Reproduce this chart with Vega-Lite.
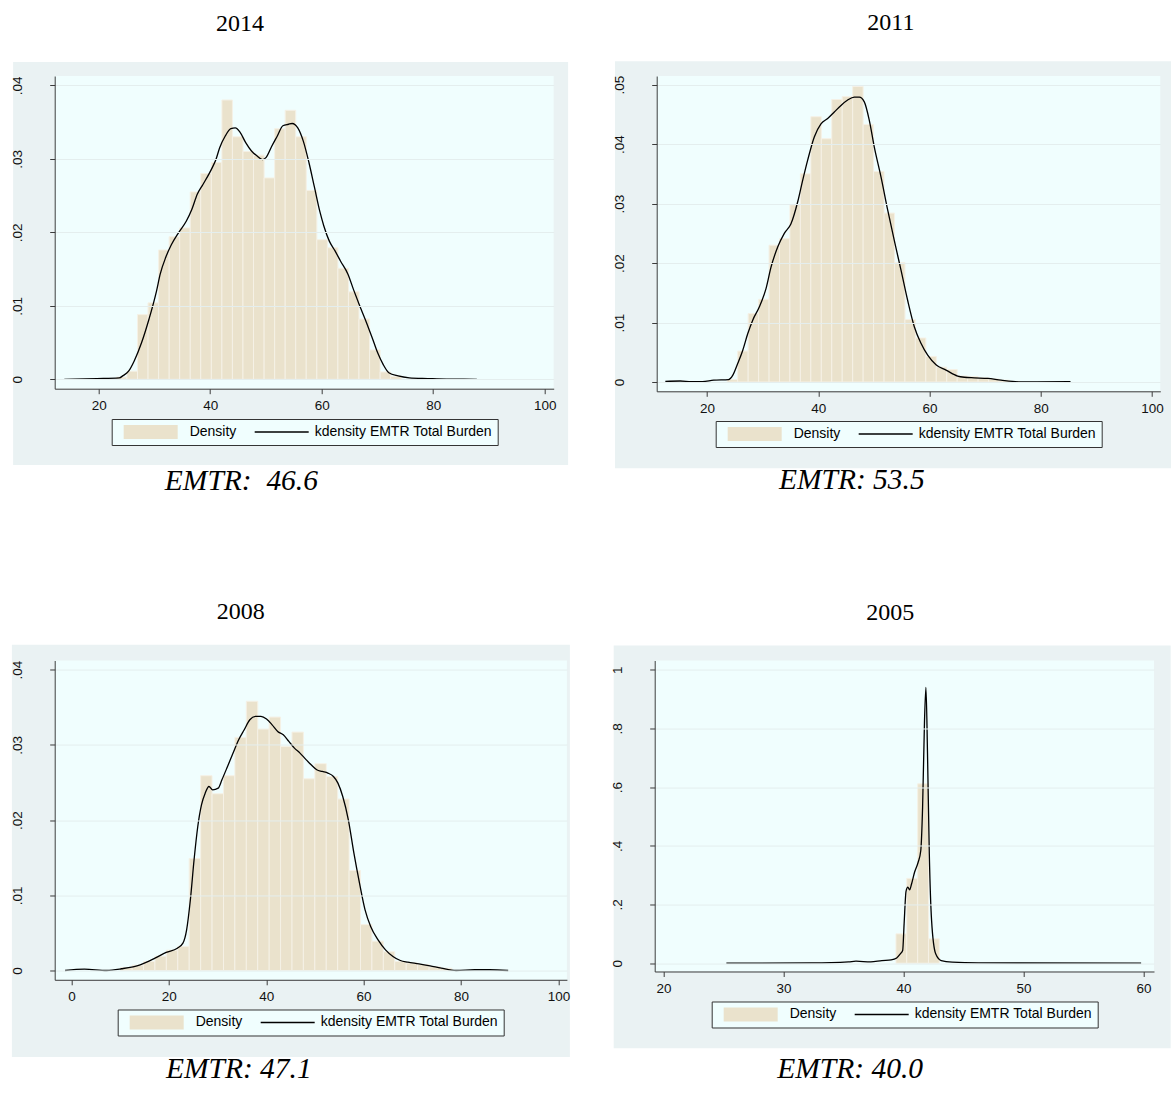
{
  "$schema": "https://vega.github.io/schema/vega-lite/v6.json",
  "background": "white",
  "padding": {"left": 10.7, "top": 11, "right": 0, "bottom": 0},
  "spacing": 103.5,
  "resolve": {"scale": {"color": "independent", "strokeWidth": "independent"}, "legend": {"color": "independent", "strokeWidth": "independent"}},
  "datasets": {
    "h14": [
      {"x0": 23.18, "x1": 25.07, "d": 0.0003},
      {"x0": 25.07, "x1": 26.96, "d": 0.0011},
      {"x0": 26.96, "x1": 28.85, "d": 0.0088},
      {"x0": 28.85, "x1": 30.75, "d": 0.0104},
      {"x0": 30.75, "x1": 32.64, "d": 0.0176},
      {"x0": 32.64, "x1": 34.53, "d": 0.0194},
      {"x0": 34.53, "x1": 36.42, "d": 0.0206},
      {"x0": 36.42, "x1": 38.31, "d": 0.0255},
      {"x0": 38.31, "x1": 40.21, "d": 0.0280},
      {"x0": 40.21, "x1": 42.10, "d": 0.0295},
      {"x0": 42.10, "x1": 43.99, "d": 0.0380},
      {"x0": 43.99, "x1": 45.88, "d": 0.0330},
      {"x0": 45.88, "x1": 47.77, "d": 0.0310},
      {"x0": 47.77, "x1": 49.67, "d": 0.0305},
      {"x0": 49.67, "x1": 51.56, "d": 0.0274},
      {"x0": 51.56, "x1": 53.45, "d": 0.0341},
      {"x0": 53.45, "x1": 55.34, "d": 0.0366},
      {"x0": 55.34, "x1": 57.23, "d": 0.0330},
      {"x0": 57.23, "x1": 59.13, "d": 0.0257},
      {"x0": 59.13, "x1": 61.02, "d": 0.0190},
      {"x0": 61.02, "x1": 62.91, "d": 0.0179},
      {"x0": 62.91, "x1": 64.80, "d": 0.0151},
      {"x0": 64.80, "x1": 66.69, "d": 0.0119},
      {"x0": 66.69, "x1": 68.59, "d": 0.0082},
      {"x0": 68.59, "x1": 70.48, "d": 0.0040},
      {"x0": 70.48, "x1": 72.37, "d": 0.0010},
      {"x0": 72.37, "x1": 74.26, "d": 0.0004}
    ],
    "k14": [
      {"x": 13.83, "y": 0.0}, {"x": 19.70, "y": 0.0001}, {"x": 23.70, "y": 0.0002}, {"x": 24.37, "y": 0.0005},
      {"x": 25.36, "y": 0.0011}, {"x": 26.37, "y": 0.0025}, {"x": 27.70, "y": 0.0050}, {"x": 29.03, "y": 0.0082},
      {"x": 30.37, "y": 0.0120}, {"x": 31.03, "y": 0.0143}, {"x": 32.03, "y": 0.0166}, {"x": 33.03, "y": 0.0183},
      {"x": 34.37, "y": 0.0200}, {"x": 35.70, "y": 0.0215}, {"x": 36.70, "y": 0.0231}, {"x": 37.70, "y": 0.0252},
      {"x": 38.70, "y": 0.0265}, {"x": 40.37, "y": 0.0288}, {"x": 41.03, "y": 0.0299}, {"x": 41.70, "y": 0.0315},
      {"x": 42.70, "y": 0.0331}, {"x": 43.70, "y": 0.0341}, {"x": 44.50, "y": 0.0342}, {"x": 45.37, "y": 0.0336},
      {"x": 46.37, "y": 0.0322}, {"x": 47.37, "y": 0.0311}, {"x": 48.37, "y": 0.0304}, {"x": 49.37, "y": 0.0299},
      {"x": 50.04, "y": 0.0302}, {"x": 51.04, "y": 0.0317}, {"x": 52.04, "y": 0.0331}, {"x": 53.04, "y": 0.0345},
      {"x": 54.04, "y": 0.0347}, {"x": 54.70, "y": 0.0348}, {"x": 55.71, "y": 0.0342}, {"x": 56.70, "y": 0.0324},
      {"x": 57.71, "y": 0.0295}, {"x": 58.71, "y": 0.0261}, {"x": 59.71, "y": 0.0227}, {"x": 60.37, "y": 0.0209},
      {"x": 61.37, "y": 0.0188}, {"x": 62.37, "y": 0.0175}, {"x": 63.37, "y": 0.0161}, {"x": 64.71, "y": 0.0143},
      {"x": 65.71, "y": 0.0122}, {"x": 66.71, "y": 0.0102}, {"x": 68.04, "y": 0.0077}, {"x": 69.04, "y": 0.0057},
      {"x": 70.04, "y": 0.0036}, {"x": 71.04, "y": 0.0020}, {"x": 72.04, "y": 0.0009}, {"x": 73.71, "y": 0.00045},
      {"x": 75.71, "y": 0.0002}, {"x": 79.04, "y": 0.0001}, {"x": 82.38, "y": 0.00002}, {"x": 87.84, "y": 0.0}
    ],
    "h11": [
      {"x0": 23.64, "x1": 25.52, "d": 0.0004},
      {"x0": 25.52, "x1": 27.40, "d": 0.0052},
      {"x0": 27.40, "x1": 29.28, "d": 0.0115},
      {"x0": 29.28, "x1": 31.16, "d": 0.0139},
      {"x0": 31.16, "x1": 33.04, "d": 0.0230},
      {"x0": 33.04, "x1": 34.91, "d": 0.0241},
      {"x0": 34.91, "x1": 36.79, "d": 0.0298},
      {"x0": 36.79, "x1": 38.67, "d": 0.0350},
      {"x0": 38.67, "x1": 40.55, "d": 0.0446},
      {"x0": 40.55, "x1": 42.43, "d": 0.0409},
      {"x0": 42.43, "x1": 44.31, "d": 0.0475},
      {"x0": 44.31, "x1": 46.19, "d": 0.0480},
      {"x0": 46.19, "x1": 48.07, "d": 0.0497},
      {"x0": 48.07, "x1": 49.95, "d": 0.0433},
      {"x0": 49.95, "x1": 51.83, "d": 0.0354},
      {"x0": 51.83, "x1": 53.71, "d": 0.0284},
      {"x0": 53.71, "x1": 55.59, "d": 0.0201},
      {"x0": 55.59, "x1": 57.46, "d": 0.0105},
      {"x0": 57.46, "x1": 59.34, "d": 0.0074},
      {"x0": 59.34, "x1": 61.22, "d": 0.0043},
      {"x0": 61.22, "x1": 63.10, "d": 0.0025},
      {"x0": 63.10, "x1": 64.98, "d": 0.0021},
      {"x0": 64.98, "x1": 66.86, "d": 0.0010},
      {"x0": 66.86, "x1": 68.74, "d": 0.0009},
      {"x0": 68.74, "x1": 70.62, "d": 0.0007},
      {"x0": 70.62, "x1": 72.50, "d": 0.0005},
      {"x0": 72.50, "x1": 74.38, "d": 0.0003},
      {"x0": 74.38, "x1": 76.26, "d": 0.0001}
    ],
    "k11": [
      {"x": 12.51, "y": 0.0001}, {"x": 15.18, "y": 0.00017}, {"x": 17.19, "y": 0.00006}, {"x": 19.19, "y": 0.00006},
      {"x": 21.20, "y": 0.0003}, {"x": 23.87, "y": 0.0004}, {"x": 24.62, "y": 0.0011}, {"x": 25.52, "y": 0.0031},
      {"x": 26.42, "y": 0.0053}, {"x": 27.32, "y": 0.0081}, {"x": 28.22, "y": 0.0104}, {"x": 29.40, "y": 0.0126},
      {"x": 30.61, "y": 0.0157}, {"x": 31.51, "y": 0.0193}, {"x": 32.71, "y": 0.0227}, {"x": 33.90, "y": 0.0250},
      {"x": 35.10, "y": 0.0266}, {"x": 36.31, "y": 0.0303}, {"x": 37.20, "y": 0.0339}, {"x": 38.10, "y": 0.0373},
      {"x": 39.29, "y": 0.0412}, {"x": 40.49, "y": 0.0434}, {"x": 41.70, "y": 0.0443}, {"x": 42.89, "y": 0.0454},
      {"x": 44.09, "y": 0.0465}, {"x": 45.29, "y": 0.0474}, {"x": 46.48, "y": 0.0479}, {"x": 47.38, "y": 0.0479},
      {"x": 48.28, "y": 0.0471}, {"x": 49.18, "y": 0.0440}, {"x": 50.08, "y": 0.0395}, {"x": 51.28, "y": 0.0345},
      {"x": 52.49, "y": 0.0289}, {"x": 53.67, "y": 0.0238}, {"x": 54.88, "y": 0.0188}, {"x": 56.08, "y": 0.0137},
      {"x": 57.27, "y": 0.0093}, {"x": 58.47, "y": 0.0065}, {"x": 59.68, "y": 0.0045}, {"x": 61.17, "y": 0.0029},
      {"x": 62.97, "y": 0.0020}, {"x": 65.07, "y": 0.0010}, {"x": 66.26, "y": 0.0008}, {"x": 68.05, "y": 0.0007},
      {"x": 70.46, "y": 0.0006}, {"x": 72.85, "y": 0.0003}, {"x": 76.00, "y": 0.00003}, {"x": 79.33, "y": 0.00003},
      {"x": 85.35, "y": 0.00005}
    ],
    "h08": [
      {"x0": 10.12, "x1": 12.47, "d": 0.0004},
      {"x0": 12.47, "x1": 14.81, "d": 0.0007},
      {"x0": 14.81, "x1": 17.16, "d": 0.0012},
      {"x0": 17.16, "x1": 19.50, "d": 0.0019},
      {"x0": 19.50, "x1": 21.85, "d": 0.0027},
      {"x0": 21.85, "x1": 24.19, "d": 0.0032},
      {"x0": 24.19, "x1": 26.54, "d": 0.0149},
      {"x0": 26.54, "x1": 28.88, "d": 0.0259},
      {"x0": 28.88, "x1": 31.23, "d": 0.0235},
      {"x0": 31.23, "x1": 33.57, "d": 0.0259},
      {"x0": 33.57, "x1": 35.92, "d": 0.0310},
      {"x0": 35.92, "x1": 38.26, "d": 0.0358},
      {"x0": 38.26, "x1": 40.61, "d": 0.0321},
      {"x0": 40.61, "x1": 42.95, "d": 0.0337},
      {"x0": 42.95, "x1": 45.30, "d": 0.0298},
      {"x0": 45.30, "x1": 47.64, "d": 0.0317},
      {"x0": 47.64, "x1": 49.99, "d": 0.0255},
      {"x0": 49.99, "x1": 52.33, "d": 0.0275},
      {"x0": 52.33, "x1": 54.68, "d": 0.0258},
      {"x0": 54.68, "x1": 57.02, "d": 0.0228},
      {"x0": 57.02, "x1": 59.37, "d": 0.0133},
      {"x0": 59.37, "x1": 61.71, "d": 0.0061},
      {"x0": 61.71, "x1": 64.06, "d": 0.0039},
      {"x0": 64.06, "x1": 66.40, "d": 0.0025},
      {"x0": 66.40, "x1": 68.75, "d": 0.0012},
      {"x0": 68.75, "x1": 71.09, "d": 0.0010},
      {"x0": 71.09, "x1": 73.44, "d": 0.0008},
      {"x0": 73.44, "x1": 75.78, "d": 0.0005},
      {"x0": 75.78, "x1": 78.13, "d": 0.0003}
    ],
    "k08": [
      {"x": -1.30, "y": 0.0}, {"x": 2.67, "y": 0.00018}, {"x": 7.25, "y": 0.0}, {"x": 10.30, "y": 0.00023},
      {"x": 14.12, "y": 0.00076}, {"x": 17.17, "y": 0.00164}, {"x": 19.46, "y": 0.0024}, {"x": 21.75, "y": 0.00297},
      {"x": 22.90, "y": 0.00364}, {"x": 23.66, "y": 0.00541}, {"x": 24.43, "y": 0.0094}, {"x": 25.19, "y": 0.01472},
      {"x": 25.95, "y": 0.01915}, {"x": 26.71, "y": 0.02203}, {"x": 27.48, "y": 0.02359}, {"x": 28.24, "y": 0.02447},
      {"x": 29.00, "y": 0.02403}, {"x": 30.15, "y": 0.02425}, {"x": 30.91, "y": 0.02536}, {"x": 32.06, "y": 0.02713},
      {"x": 33.20, "y": 0.02891}, {"x": 34.35, "y": 0.03068}, {"x": 35.49, "y": 0.03201}, {"x": 36.64, "y": 0.03334},
      {"x": 37.78, "y": 0.03378}, {"x": 38.93, "y": 0.03378}, {"x": 40.07, "y": 0.03343}, {"x": 41.22, "y": 0.03267},
      {"x": 42.36, "y": 0.03179}, {"x": 43.51, "y": 0.03134}, {"x": 44.65, "y": 0.03046}, {"x": 45.80, "y": 0.02957},
      {"x": 46.94, "y": 0.02891}, {"x": 48.09, "y": 0.02811}, {"x": 49.23, "y": 0.02735}, {"x": 50.38, "y": 0.02669},
      {"x": 51.52, "y": 0.02647}, {"x": 52.67, "y": 0.02625}, {"x": 53.81, "y": 0.0258}, {"x": 54.73, "y": 0.02492},
      {"x": 55.72, "y": 0.02314}, {"x": 56.87, "y": 0.02004}, {"x": 58.01, "y": 0.01561}, {"x": 59.16, "y": 0.01162},
      {"x": 60.30, "y": 0.00807}, {"x": 61.45, "y": 0.00586}, {"x": 62.97, "y": 0.00408}, {"x": 64.50, "y": 0.00275},
      {"x": 66.03, "y": 0.00187}, {"x": 67.55, "y": 0.00133}, {"x": 69.08, "y": 0.00111}, {"x": 71.37, "y": 0.00089},
      {"x": 73.66, "y": 0.00062}, {"x": 75.95, "y": 0.00031}, {"x": 79.00, "y": 0.0}, {"x": 82.82, "y": 0.0001},
      {"x": 85.87, "y": 0.0001}, {"x": 89.69, "y": 0.0}
    ],
    "h05": [
      {"x0": 39.38, "x1": 40.28, "d": 0.100},
      {"x0": 40.28, "x1": 41.19, "d": 0.289},
      {"x0": 41.19, "x1": 42.09, "d": 0.611},
      {"x0": 42.09, "x1": 42.99, "d": 0.083}
    ],
    "k05": [
      {"x": 25.25, "y": 0.0}, {"x": 32.35, "y": 0.001}, {"x": 35.43, "y": 0.0045}, {"x": 36.05, "y": 0.0068},
      {"x": 37.28, "y": 0.0045}, {"x": 38.21, "y": 0.009}, {"x": 38.98, "y": 0.0114}, {"x": 39.44, "y": 0.018},
      {"x": 39.75, "y": 0.032}, {"x": 39.94, "y": 0.043}, {"x": 40.06, "y": 0.134}, {"x": 40.22, "y": 0.245},
      {"x": 40.37, "y": 0.259}, {"x": 40.52, "y": 0.250}, {"x": 40.68, "y": 0.270}, {"x": 40.93, "y": 0.310},
      {"x": 41.23, "y": 0.344}, {"x": 41.45, "y": 0.384}, {"x": 41.60, "y": 0.531}, {"x": 41.76, "y": 0.826},
      {"x": 41.88, "y": 0.940}, {"x": 42.01, "y": 0.713}, {"x": 42.16, "y": 0.372}, {"x": 42.35, "y": 0.145},
      {"x": 42.69, "y": 0.032}, {"x": 43.15, "y": 0.009}, {"x": 44.07, "y": 0.0034}, {"x": 46.23, "y": 0.001},
      {"x": 59.81, "y": 0.0}
    ]
  },
  "vconcat": [
    {
      "spacing": 44,
      "resolve": {"scale": {"color": "independent", "strokeWidth": "independent"}, "legend": {"color": "independent", "strokeWidth": "independent"}},
      "hconcat": [
        {
          "title": {"text": "2014", "font": "Liberation Serif", "fontSize": 24, "fontWeight": "normal", "color": "#000", "anchor": "middle", "frame": "bounds", "dx": -49.5, "offset": 26},
          "resolve": {"scale": {"color": "independent", "strokeWidth": "independent"}, "legend": {"color": "independent", "strokeWidth": "independent"}},
          "vconcat": [
            {
              "width": 499, "height": 312.7,
              "title": {"text": "EMTR:\u00a0 46.6", "orient": "bottom", "font": "Liberation Serif", "fontStyle": "italic", "fontSize": 29.5, "fontWeight": "normal", "color": "#000", "anchor": "middle", "frame": "bounds", "dx": -48, "offset": 2},
              "layer": [
                {
                  "data": {"values": [{}]},
                  "mark": {"type": "rect", "color": "#EAF2F3", "clip": false},
                  "encoding": {
                    "x": {"datum": 4.646, "type": "quantitative", "scale": {"domain": [12.108, 101.615], "nice": false, "zero": false},
                          "axis": {"title": null, "values": [20, 40, 60, 80, 100], "grid": false, "zindex": 1}},
                    "x2": {"datum": 104.2},
                    "y": {"datum": 0.04317, "type": "quantitative", "scale": {"domain": [-0.001279, 0.041265], "nice": false, "zero": false},
                          "axis": {"title": null, "values": [0, 0.01, 0.02, 0.03, 0.04], "grid": true, "zindex": 1,
                                   "labelExpr": "datum.value == 0 ? '0' : datum.value >= 1 ? format(datum.value, 'd') : substring(format(datum.value, '.2~f'), 1)"}},
                    "y2": {"datum": -0.01166}
                  }
                },
                {
                  "data": {"values": [{}]},
                  "mark": {"type": "rect", "color": "#F0FEFE"},
                  "encoding": {"x": {"datum": 12.108}, "x2": {"datum": 101.615}, "y": {"datum": 0.041265}, "y2": {"datum": -0.001279}}
                },
                {
                  "data": {"name": "h14"},
                  "mark": {"type": "rect", "stroke": "#F5F1E6", "strokeWidth": 1},
                  "encoding": {
                    "x": {"field": "x0", "type": "quantitative"}, "x2": {"field": "x1"},
                    "y": {"field": "d", "type": "quantitative"}, "y2": {"datum": 0},
                    "color": {"datum": "Density", "scale": {"domain": ["Density", "kdensity EMTR Total Burden"], "range": ["#EAE2CC", "#000000"]}, "legend": {"title": null, "symbolType": "stroke"}}
                  }
                },
                {
                  "data": {"name": "k14"},
                  "mark": {"type": "line", "interpolate": "monotone"},
                  "encoding": {
                    "x": {"field": "x", "type": "quantitative"}, "y": {"field": "y", "type": "quantitative"},
                    "color": {"datum": "kdensity EMTR Total Burden"},
                    "strokeWidth": {"datum": "kdensity EMTR Total Burden", "scale": {"type": "point", "domain": ["Density", "kdensity EMTR Total Burden"], "range": [14, 1.3], "padding": 0}, "legend": {"title": null, "symbolType": "stroke"}}
                  }
                }
              ]
            }
          ]
        },
        {
          "title": {"text": "2011", "font": "Liberation Serif", "fontSize": 24, "fontWeight": "normal", "color": "#000", "anchor": "middle", "frame": "bounds", "dx": -1.5, "offset": 26},
          "resolve": {"scale": {"color": "independent", "strokeWidth": "independent"}, "legend": {"color": "independent", "strokeWidth": "independent"}},
          "vconcat": [
            {
              "width": 503.6, "height": 315.3,
              "title": {"text": "EMTR: 53.5", "orient": "bottom", "font": "Liberation Serif", "fontStyle": "italic", "fontSize": 29.5, "fontWeight": "normal", "color": "#000", "anchor": "middle", "frame": "bounds", "dx": -40.5, "offset": -2},
              "layer": [
                {
                  "data": {"values": [{}]},
                  "mark": {"type": "rect", "color": "#EAF2F3", "clip": false},
                  "encoding": {
                    "x": {"datum": 3.461, "type": "quantitative", "scale": {"domain": [10.957, 101.492], "nice": false, "zero": false},
                          "axis": {"title": null, "values": [20, 40, 60, 80, 100], "grid": false, "zindex": 1}},
                    "x2": {"datum": 103.596},
                    "y": {"datum": 0.053917, "type": "quantitative", "scale": {"domain": [-0.001564, 0.051446], "nice": false, "zero": false},
                          "axis": {"title": null, "values": [0, 0.01, 0.02, 0.03, 0.04, 0.05], "grid": true, "zindex": 1,
                                   "labelExpr": "datum.value == 0 ? '0' : datum.value >= 1 ? format(datum.value, 'd') : substring(format(datum.value, '.2~f'), 1)"}},
                    "y2": {"datum": -0.014509}
                  }
                },
                {
                  "data": {"values": [{}]},
                  "mark": {"type": "rect", "color": "#F0FEFE"},
                  "encoding": {"x": {"datum": 10.957}, "x2": {"datum": 101.492}, "y": {"datum": 0.051446}, "y2": {"datum": -0.001564}}
                },
                {
                  "data": {"name": "h11"},
                  "mark": {"type": "rect", "stroke": "#F5F1E6", "strokeWidth": 1},
                  "encoding": {
                    "x": {"field": "x0", "type": "quantitative"}, "x2": {"field": "x1"},
                    "y": {"field": "d", "type": "quantitative"}, "y2": {"datum": 0},
                    "color": {"datum": "Density", "scale": {"domain": ["Density", "kdensity EMTR Total Burden"], "range": ["#EAE2CC", "#000000"]}, "legend": {"title": null, "symbolType": "stroke"}}
                  }
                },
                {
                  "data": {"name": "k11"},
                  "mark": {"type": "line", "interpolate": "monotone"},
                  "encoding": {
                    "x": {"field": "x", "type": "quantitative"}, "y": {"field": "y", "type": "quantitative"},
                    "color": {"datum": "kdensity EMTR Total Burden"},
                    "strokeWidth": {"datum": "kdensity EMTR Total Burden", "scale": {"type": "point", "domain": ["Density", "kdensity EMTR Total Burden"], "range": [14, 1.3], "padding": 0}, "legend": {"title": null, "symbolType": "stroke"}}
                  }
                }
              ]
            }
          ]
        }
      ]
    },
    {
      "spacing": 40,
      "resolve": {"scale": {"color": "independent", "strokeWidth": "independent"}, "legend": {"color": "independent", "strokeWidth": "independent"}},
      "hconcat": [
        {
          "title": {"text": "2008", "font": "Liberation Serif", "fontSize": 24, "fontWeight": "normal", "color": "#000", "anchor": "middle", "frame": "bounds", "dx": -49.5, "offset": 21},
          "resolve": {"scale": {"color": "independent", "strokeWidth": "independent"}, "legend": {"color": "independent", "strokeWidth": "independent"}},
          "vconcat": [
            {
              "width": 512.2, "height": 319.3,
              "title": {"text": "EMTR: 47.1", "orient": "bottom", "font": "Liberation Serif", "fontStyle": "italic", "fontSize": 29.5, "fontWeight": "normal", "color": "#000", "anchor": "middle", "frame": "bounds", "dx": -51.5, "offset": -2.5},
              "layer": [
                {
                  "data": {"values": [{}]},
                  "mark": {"type": "rect", "color": "#EAF2F3", "clip": false},
                  "encoding": {
                    "x": {"datum": -12.218, "type": "quantitative", "scale": {"domain": [-3.429, 101.745], "nice": false, "zero": false},
                          "axis": {"title": null, "values": [0, 20, 40, 60, 80, 100], "grid": false, "zindex": 1}},
                    "x2": {"datum": 102.361},
                    "y": {"datum": 0.043311, "type": "quantitative", "scale": {"domain": [-0.001237, 0.041223], "nice": false, "zero": false},
                          "axis": {"title": null, "values": [0, 0.01, 0.02, 0.03, 0.04], "grid": true, "zindex": 1,
                                   "labelExpr": "datum.value == 0 ? '0' : datum.value >= 1 ? format(datum.value, 'd') : substring(format(datum.value, '.2~f'), 1)"}},
                    "y2": {"datum": -0.011516}
                  }
                },
                {
                  "data": {"values": [{}]},
                  "mark": {"type": "rect", "color": "#F0FEFE"},
                  "encoding": {"x": {"datum": -3.429}, "x2": {"datum": 101.745}, "y": {"datum": 0.041223}, "y2": {"datum": -0.001237}}
                },
                {
                  "data": {"name": "h08"},
                  "mark": {"type": "rect", "stroke": "#F5F1E6", "strokeWidth": 1},
                  "encoding": {
                    "x": {"field": "x0", "type": "quantitative"}, "x2": {"field": "x1"},
                    "y": {"field": "d", "type": "quantitative"}, "y2": {"datum": 0},
                    "color": {"datum": "Density", "scale": {"domain": ["Density", "kdensity EMTR Total Burden"], "range": ["#EAE2CC", "#000000"]}, "legend": {"title": null, "symbolType": "stroke"}}
                  }
                },
                {
                  "data": {"name": "k08"},
                  "mark": {"type": "line", "interpolate": "monotone"},
                  "encoding": {
                    "x": {"field": "x", "type": "quantitative"}, "y": {"field": "y", "type": "quantitative"},
                    "color": {"datum": "kdensity EMTR Total Burden"},
                    "strokeWidth": {"datum": "kdensity EMTR Total Burden", "scale": {"type": "point", "domain": ["Density", "kdensity EMTR Total Burden"], "range": [14, 1.3], "padding": 0}, "legend": {"title": null, "symbolType": "stroke"}}
                  }
                }
              ]
            }
          ]
        },
        {
          "title": {"text": "2005", "font": "Liberation Serif", "fontSize": 24, "fontWeight": "normal", "color": "#000", "anchor": "middle", "frame": "bounds", "dx": -0.5, "offset": 21},
          "resolve": {"scale": {"color": "independent", "strokeWidth": "independent"}, "legend": {"color": "independent", "strokeWidth": "independent"}},
          "vconcat": [
            {
              "width": 499.3, "height": 311,
              "title": {"text": "EMTR: 40.0", "orient": "bottom", "font": "Liberation Serif", "fontStyle": "italic", "fontSize": 29.5, "fontWeight": "normal", "color": "#000", "anchor": "middle", "frame": "bounds", "dx": -40.5, "offset": 6.5},
              "layer": [
                {
                  "data": {"values": [{}]},
                  "mark": {"type": "rect", "color": "#EAF2F3", "clip": false},
                  "encoding": {
                    "x": {"datum": 15.858, "type": "quantitative", "scale": {"domain": [19.275, 60.883], "nice": false, "zero": false},
                          "axis": {"title": null, "values": [20, 30, 40, 50, 60], "grid": false, "zindex": 1}},
                    "x2": {"datum": 62.275},
                    "y": {"datum": 1.08245, "type": "quantitative", "scale": {"domain": [-0.02828, 1.03135], "nice": false, "zero": false},
                          "axis": {"title": null, "values": [0, 0.2, 0.4, 0.6, 0.8, 1], "grid": true, "zindex": 1,
                                   "labelExpr": "datum.value == 0 ? '0' : datum.value >= 1 ? format(datum.value, 'd') : substring(format(datum.value, '.2~f'), 1)"}},
                    "y2": {"datum": -0.28961}
                  }
                },
                {
                  "data": {"values": [{}]},
                  "mark": {"type": "rect", "color": "#F0FEFE"},
                  "encoding": {"x": {"datum": 19.275}, "x2": {"datum": 60.883}, "y": {"datum": 1.03135}, "y2": {"datum": -0.02828}}
                },
                {
                  "data": {"name": "h05"},
                  "mark": {"type": "rect", "stroke": "#F5F1E6", "strokeWidth": 1},
                  "encoding": {
                    "x": {"field": "x0", "type": "quantitative"}, "x2": {"field": "x1"},
                    "y": {"field": "d", "type": "quantitative"}, "y2": {"datum": 0},
                    "color": {"datum": "Density", "scale": {"domain": ["Density", "kdensity EMTR Total Burden"], "range": ["#EAE2CC", "#000000"]}, "legend": {"title": null, "symbolType": "stroke"}}
                  }
                },
                {
                  "data": {"name": "k05"},
                  "mark": {"type": "line", "interpolate": "monotone"},
                  "encoding": {
                    "x": {"field": "x", "type": "quantitative"}, "y": {"field": "y", "type": "quantitative"},
                    "color": {"datum": "kdensity EMTR Total Burden"},
                    "strokeWidth": {"datum": "kdensity EMTR Total Burden", "scale": {"type": "point", "domain": ["Density", "kdensity EMTR Total Burden"], "range": [14, 1.3], "padding": 0}, "legend": {"title": null, "symbolType": "stroke"}}
                  }
                }
              ]
            }
          ]
        }
      ]
    }
  ],
  "config": {
    "view": {"stroke": null},
    "axis": {
      "labelFont": "Liberation Sans", "labelFontSize": 13.5, "labelColor": "#111111",
      "domainColor": "#3a3a3a", "tickColor": "#3a3a3a", "domainWidth": 1, "tickWidth": 1, "tickSize": 5,
      "gridColor": "#E4EEEE", "gridWidth": 1, "labelFlush": false, "labelPadding": 5
    },
    "axisY": {"labelAngle": -90, "labelAlign": "center", "labelBaseline": "bottom", "labelPadding": 25},
    "legend": {
      "orient": "bottom", "direction": "horizontal", "labelFont": "Liberation Sans", "labelFontSize": 14, "labelColor": "#000000",
      "labelLimit": 400, "symbolSize": 2916, "symbolType": "stroke", "clipHeight": 16, "padding": 5, "fillColor": "#F0FEFE", "strokeColor": "#333333",
      "labelOffset": 5, "columnPadding": 17, "offset": 6, "layout": {"bottom": {"anchor": "middle"}}
    }
  }
}
